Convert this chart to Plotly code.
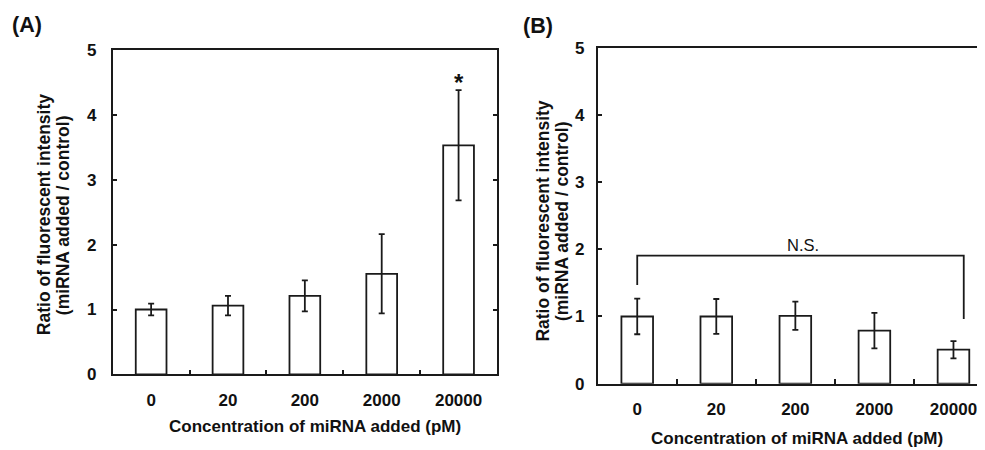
import plotly.graph_objects as go

categories = ["0", "20", "200", "2000", "20000"]
a_values = [1.00, 1.06, 1.21, 1.55, 3.53]
a_errors = [0.09, 0.15, 0.24, 0.61, 0.85]
b_values = [1.00, 1.00, 1.01, 0.79, 0.505]
b_errors = [0.265, 0.26, 0.21, 0.265, 0.128]
y_ticks = [0, 1, 2, 3, 4, 5]

star_pos = (4, 4.50)
ns_bracket_x = [0, 0, 4.13, 4.13]
ns_bracket_y = [1.47, 1.906, 1.906, 0.963]
ns_text_pos = (2.1, 2.06)

LINE = "#1a1a1a"
FONT = "Liberation Sans, Arial, sans-serif"

fig = go.Figure()

def bar(vals, errs, xa, ya):
    return go.Bar(
        x=categories, y=vals, xaxis=xa, yaxis=ya, width=0.4,
        marker=dict(color="white", line=dict(color=LINE, width=1.8)),
        error_y=dict(type="data", array=errs, visible=True, color=LINE,
                     thickness=1.8, width=3),
        showlegend=False, hoverinfo="skip",
    )

fig.add_trace(bar(a_values, a_errors, "x", "y"))
fig.add_trace(bar(b_values, b_errors, "x2", "y2"))

W, H = 985, 450
axA_x = [104.7 / W, 489 / W]
axA_y = [1 - 373.2 / H, 1 - 34.3 / H]
axB_x = [589.7 / W, 1.0]
axB_y = [1 - 382.8 / H, 1 - 32.2 / H]

tickfont = dict(family=FONT, size=17, color="#111", weight="bold")

common_x = dict(type="category", showline=True, linecolor=LINE, linewidth=1.8,
                ticks="inside", tickson="boundaries", ticklen=5, tickwidth=1.6,
                tickcolor=LINE, showgrid=False, zeroline=False, tickfont=tickfont,
                ticklabelstandoff=9, fixedrange=True)
common_y = dict(range=[0, 5], tickvals=y_ticks, showline=True, linecolor=LINE,
                linewidth=1.8, ticks="inside", ticklen=4.5, tickwidth=1.6,
                tickcolor=LINE, showgrid=False, zeroline=False, tickfont=tickfont,
                fixedrange=True)

fig.update_layout(
    width=W, height=H, margin=dict(l=0, r=0, t=0, b=0),
    paper_bgcolor="white", plot_bgcolor="white",
    font=dict(family=FONT, color="#111"),
    xaxis=dict(domain=axA_x, range=[-0.5, 4.5], mirror=True, anchor="y", **common_x),
    yaxis=dict(domain=axA_y, mirror="ticks", anchor="x", ticklabelstandoff=11, **common_y),
    xaxis2=dict(domain=axB_x, range=[-0.5, 4.5], mirror=True, anchor="y2", **common_x),
    yaxis2=dict(domain=axB_y, mirror=False, anchor="x2", ticklabelstandoff=8, **common_y),
)

line1 = "Ratio of fluorescent intensity"
line2 = "(miRNA added / control)"
xtitle = "Concentration of miRNA added (pM)"
tfont = dict(family=FONT, size=17.5, color="#111", weight="bold")
xfont = dict(family=FONT, size=17, color="#111", weight="bold")

def pa(text, x, y, font, angle=0):
    return dict(text=text, x=x / W, y=1 - y / H, xref="paper", yref="paper",
                xanchor="center", yanchor="middle", textangle=angle,
                showarrow=False, font=font)

plabel = dict(family=FONT, size=21.5, color="#111", weight="bold")
anns = [
    pa("(A)", 18.7, 8.5, plabel),
    pa("(B)", 529.5, 9.5, plabel),
    pa(line1, 36, 206.9, tfont, -90),
    pa(line2, 55, 206.9, tfont, -90),
    pa(line1, 535, 213.6, tfont, -90),
    pa(line2, 553.5, 213.6, tfont, -90),
    pa(xtitle, 307.2, 427.2, xfont),
    pa(xtitle, 788.7, 439.7, xfont),
    dict(text="*", x=star_pos[0], y=star_pos[1], xref="x", yref="y",
         xanchor="center", yanchor="middle", showarrow=False,
         font=dict(family=FONT, size=24, color="#111", weight="bold")),
    dict(text="N.S.", x=ns_text_pos[0], y=ns_text_pos[1], xref="x2", yref="y2",
         xanchor="center", yanchor="middle", showarrow=False,
         font=dict(family=FONT, size=16.5, color="#111")),
]
fig.update_layout(annotations=anns)

path = "M " + " L ".join(f"{x},{y}" for x, y in zip(ns_bracket_x, ns_bracket_y))
fig.add_shape(type="path", path=path, xref="x2", yref="y2",
              line=dict(color=LINE, width=1.8))

fig.write_html("out.html")
